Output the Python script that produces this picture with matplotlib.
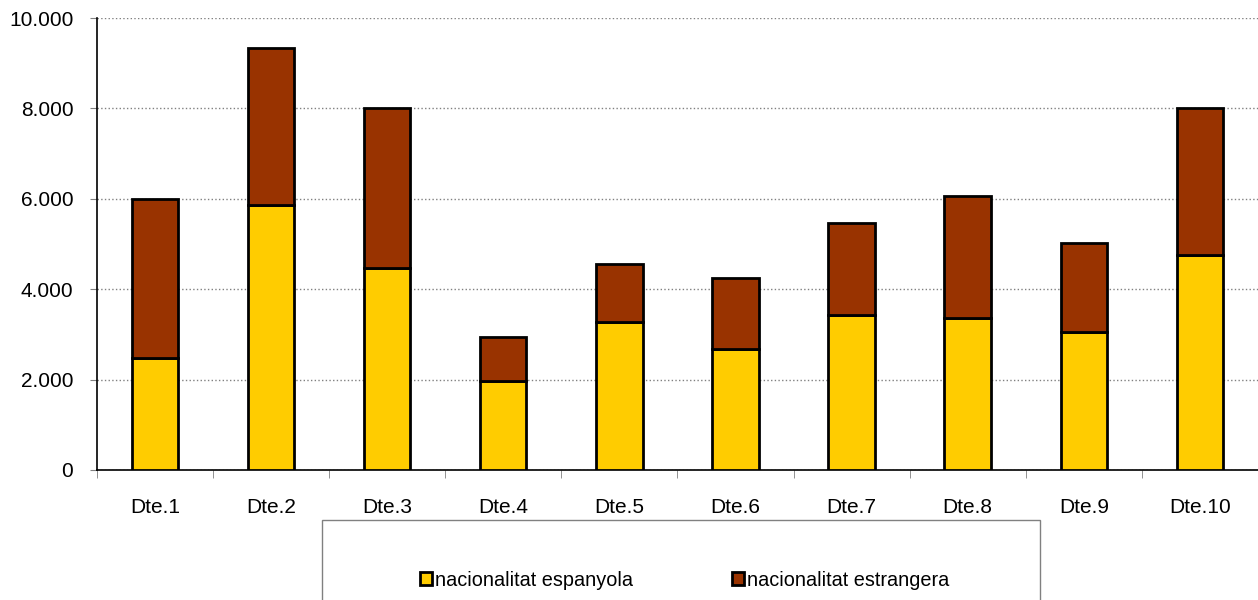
import numpy as np
import matplotlib.pyplot as plt
from matplotlib.patches import Rectangle
from matplotlib.ticker import FuncFormatter, FixedLocator

plt.rcParams['font.family'] = ['Liberation Sans', 'DejaVu Sans']

districtes = ['Dte.1', 'Dte.2', 'Dte.3', 'Dte.4', 'Dte.5',
              'Dte.6', 'Dte.7', 'Dte.8', 'Dte.9', 'Dte.10']
espanyola = [2480, 5860, 4460, 1970, 3270, 2680, 3430, 3370, 3050, 4760]
estrangera = [3520, 3470, 3550, 970, 1290, 1570, 2030, 2690, 1970, 3240]

fig = plt.figure(figsize=(12.58, 6.0), dpi=100)
ax = fig.add_axes([0.077, 0.2167, 0.923, 0.7533])

r = np.arange(len(districtes))
ax.bar(r, espanyola, width=0.4, color='#FFCC00', edgecolor='black', lw=2,
       label='nacionalitat espanyola', zorder=3)
ax.bar(r, estrangera, width=0.4, bottom=espanyola, color='#993300',
       edgecolor='black', lw=2, label='nacionalitat estrangera', zorder=3)

ax.set_xlim(-0.5, len(districtes) - 0.5)
ax.set_ylim(0, 10000)
ax.set_yticks(np.arange(0, 10001, 2000))
ax.yaxis.set_major_formatter(FuncFormatter(lambda v, p: f'{int(v):,}'.replace(',', '.')))
ax.set_xticks(r)
ax.set_xticklabels(districtes)
ax.tick_params(axis='x', which='major', length=0, pad=20, labelsize=15)
ax.xaxis.set_minor_locator(FixedLocator(np.arange(-0.5, len(districtes), 1)))
ax.tick_params(axis='x', which='minor', length=6, color='#808080')
ax.tick_params(axis='y', length=5, pad=12, labelsize=15, color='#808080')

ax.grid(axis='y', linestyle=':', color='#808080', lw=1, zorder=0)
for s in ['top', 'right']:
    ax.spines[s].set_visible(False)
ax.spines['left'].set_linewidth(1.2)
ax.spines['bottom'].set_linewidth(1.2)

# marc de la llegenda
fig.patches.append(Rectangle((322 / 1258, -0.02), 718 / 1258, 0.02 + 80 / 600,
                             transform=fig.transFigure, fill=False,
                             edgecolor='#808080', lw=1))
leg = fig.legend(loc='center', bbox_to_anchor=(0.544, 0.0333), ncol=2,
                 fontsize=14.3, frameon=False,
                 handlelength=0.6, handleheight=0.6, handletextpad=0.15,
                 columnspacing=5.0, borderaxespad=0)

plt.savefig('out.png', dpi=100)
